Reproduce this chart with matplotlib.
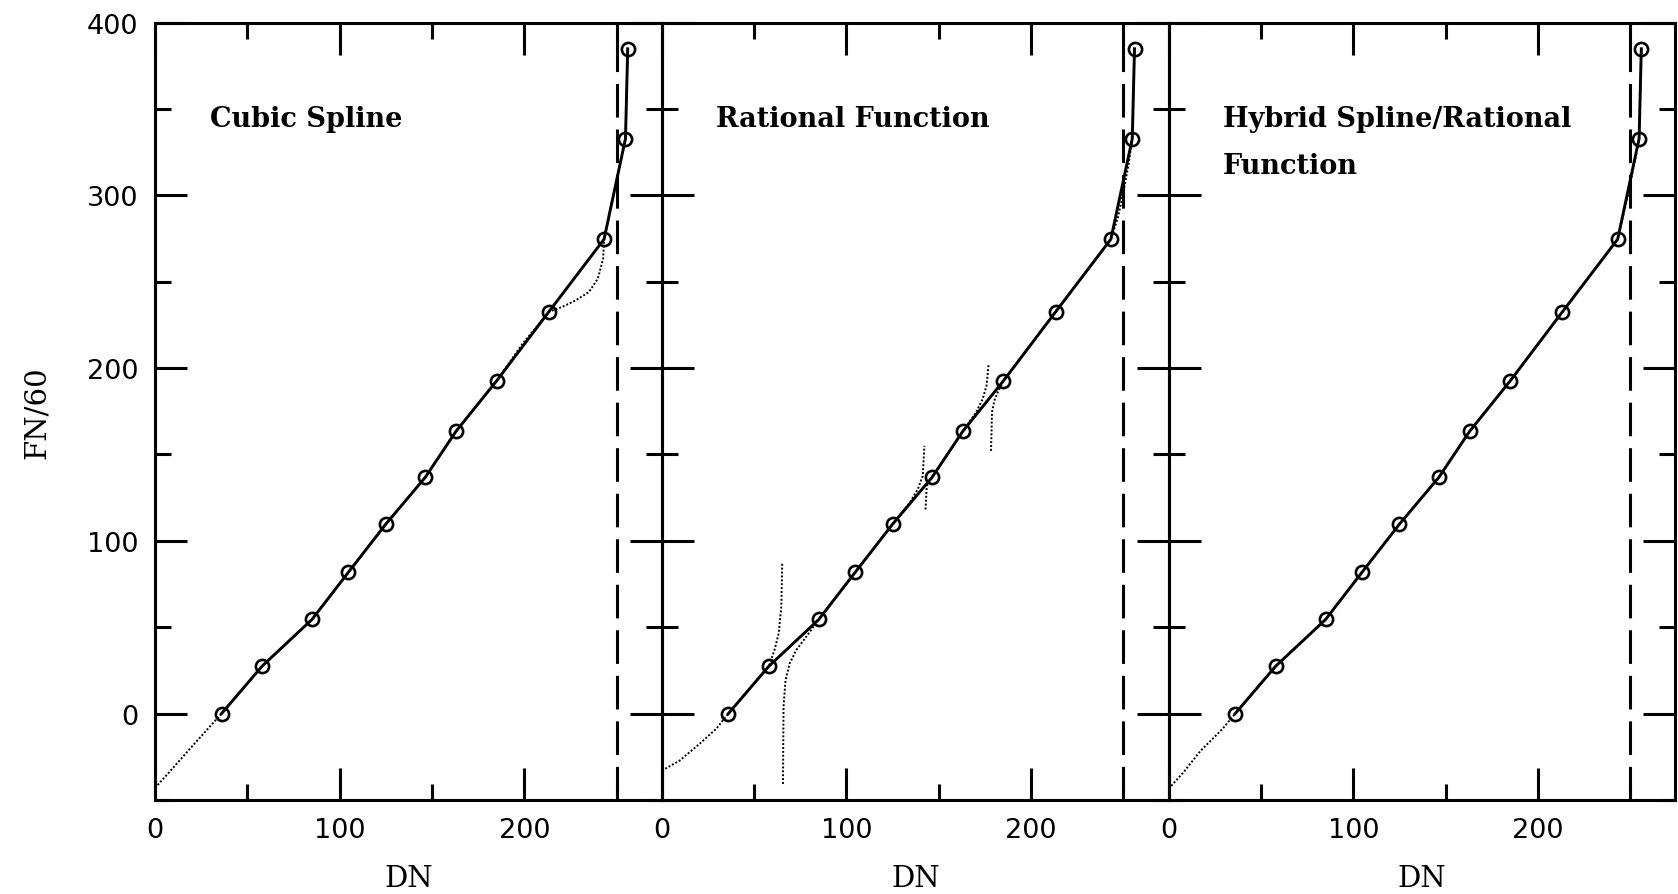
import matplotlib
matplotlib.use('Agg')
import matplotlib.pyplot as plt
from matplotlib.ticker import MultipleLocator
import numpy as np

nan = np.nan

# Calibration points (circles), common to all panels
dn_points = [36, 58, 85, 104.7, 125, 146.3, 163, 185, 213.3, 243.2, 254.8, 256]
fn_points = [0, 27.5, 54.5, 81.8, 109.7, 136.7, 163.4, 192.6, 232.6, 274.6, 332.8, 384.8]

# Saturation limit (dashed line)
dn_limit = 250

titles = [["Cubic Spline"], ["Rational Function"], ["Hybrid Spline/Rational", "Function"]]

# Fitted curves (dotted)
spline_dn = [0, 8, 20, 36, 58, 85, 104.7, 125, 146.3, 163, 185, 199, 213.3,
             220.5, 227.8, 235, 239.8, 242.7, 243.2, 254.8, 256]
spline_fn = [-43, -33.5, -19, 0, 27.5, 54.5, 81.8, 109.7, 136.7, 163.4, 192.6, 214, 232.6,
             235.4, 239.2, 244, 251.7, 263.3, 274.6, 332.8, 384.8]

rational_dn = [0, 9.6, 20.5, 29.5, 36, 58, 61, 63.3, 64.7, 65.2, nan,
               65.6, 65.9, 67, 69.2, 72.8, 78.2, 85, 104.7, 125, 134.2, 138.6, 141.3, 142.2, nan,
               142.8, 143.5, 144.9, 146.3, 163, 170.2, 173.8, 175.9, 177, nan,
               178.3, 178.8, 180.1, 181.9, 185, 213.3, 243.2, 247, 250, 252.8, 254.8, 256]
rational_fn = [-33, -27.2, -17.4, -8.7, 0, 27.5, 36.8, 46.5, 62, 87.2, nan,
               -40.7, 3.9, 19.4, 29, 36.8, 44.5, 54.5, 81.8, 109.7, 122, 129.8, 137.6, 155, nan,
               118.2, 131.7, 134.6, 136.7, 163.4, 174.4, 182.2, 190, 202.5, nan,
               152.1, 174.4, 181.2, 186, 192.6, 232.6, 274.6, 287, 302, 318, 332.8, 384.8]

hybrid_dn = [0, 8, 17.3, 29.2, 36, 58, 85, 104.7, 125, 146.3, 163, 185, 213.3, 243.2,
             248.8, 252.4, 254.8, 256]
hybrid_fn = [-43.5, -34, -21.5, -8.8, 0, 27.5, 54.5, 81.8, 109.7, 136.7, 163.4, 192.6, 232.6, 274.6,
             300.3, 319.5, 332.8, 384.8]

fits = [(spline_dn, spline_fn), (rational_dn, rational_fn), (hybrid_dn, hybrid_fn)]

x_major = [0, 100, 200]
x_minor = [50, 150, 250]

fig = plt.figure(figsize=(16.78, 8.95), dpi=100)
left, w, bottom, h = 0.0924, 0.30203, 0.105, 0.8687

for i in range(3):
    ax = fig.add_axes([left + i * w, bottom, w, h])
    ax.patch.set_visible(False)
    fx, fy = fits[i]
    ax.plot(fx, fy, color='k', lw=1.4, ls=(0, (1, 1.0)), zorder=2)
    ax.plot(dn_points, fn_points, color='k', lw=2.1, marker='o', ms=9.5,
            mfc='none', mec='k', mew=1.9, zorder=3)
    ax.axvline(dn_limit, color='k', lw=2.2, dashes=(11, 3.9), zorder=2)
    ax.set_xlim(0, 274.5)
    ax.set_ylim(-50, 400)
    ax.set_xticks(x_major)
    ax.set_xticks(x_minor, minor=True)
    ax.yaxis.set_major_locator(MultipleLocator(100))
    ax.yaxis.set_minor_locator(MultipleLocator(50))
    ax.tick_params(which='both', direction='in', top=True, right=True,
                   width=2.2, color='k')
    ax.tick_params(which='major', length=23, labelsize=19.5, pad=12)
    ax.tick_params(which='minor', length=11.5)
    for lab in ax.get_xticklabels() + ax.get_yticklabels():
        lab.set_fontfamily('DejaVu Sans')
    if i > 0:
        ax.tick_params(labelleft=False)
    for s in ax.spines.values():
        s.set_linewidth(2.2)
    ax.set_xlabel('DN', fontfamily='DejaVu Serif', fontsize=21, labelpad=15)
    for k, line in enumerate(titles[i]):
        ax.annotate(line, xy=(29.5, 340), xytext=(0, -34 * k), textcoords='offset points',
                    fontfamily='DejaVu Serif', fontweight='bold', fontsize=19.5,
                    ha='left', va='baseline')
    if i == 0:
        ax.set_ylabel('FN/60', fontfamily='DejaVu Serif', fontsize=21, labelpad=26)

fig.savefig('out.png', dpi=100)
